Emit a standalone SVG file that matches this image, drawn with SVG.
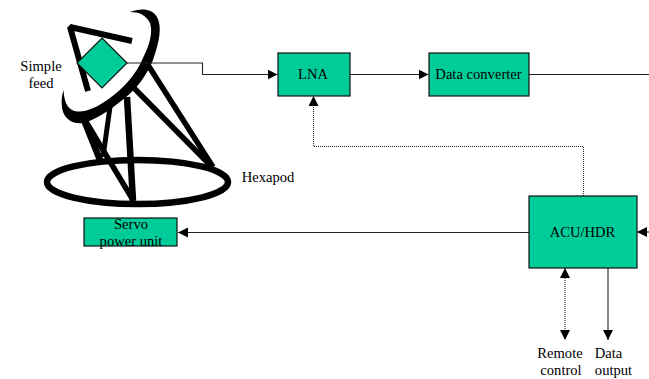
<svg xmlns="http://www.w3.org/2000/svg" width="649" height="379" viewBox="0 0 649 379">
<style>
.box{fill:#00cc99;stroke:#111;stroke-width:1.2}
text{font-family:"Liberation Serif","Times New Roman",serif;font-size:14.6px;fill:#000;text-anchor:middle}
.leg{stroke:#000;fill:none}
.c{fill:none;stroke:#222;stroke-width:1.1}
.d{stroke-dasharray:1 1}
</style>
<defs>
<marker id="a" markerUnits="userSpaceOnUse" markerWidth="11" markerHeight="11" refX="10" refY="5" orient="auto-start-reverse"><path d="M0 0L10 5L0 10Z" fill="#000"/></marker>
</defs>
<rect width="649" height="379" fill="#fff"/>
<g id="antenna">
<ellipse cx="137.500" cy="182" rx="90.500" ry="22" fill="none" stroke="#000" stroke-width="6.500"/>
<path class="leg" stroke-width="5.500" d="M148 65L213 167M133 87L210 165"/>
<path class="leg" stroke-width="6.500" d="M127 97L133 201"/>
<path class="leg" stroke-width="5" d="M110 107L103 157"/>
<path class="leg" stroke-width="5.500" d="M85 120L133 200"/>
<path class="leg" stroke-width="6.500" d="M84 120L100 160"/>
<path d="M130 12C140 8 152 8 157 17C162 26 160 40 153 60C146 77 135 90 125 98C110 110 97 119 84 123C72 125 63 118 62 107C61 101 62 95 63.500 90C64 97 65 106 72 110C82 115 98 107 110 98C125 87 137 73 143 58C150 44 153 32 150 23C146 15 139 12 130 12Z" fill="#000"/>
<path class="leg" stroke-width="6" stroke-linejoin="bevel" d="M88 91L70 27L132 41"/>
</g>
<g id="connectors">
<path class="c" marker-end="url(#a)" d="M127 63H202.500V74.500H277.500"/>
<path class="c" marker-end="url(#a)" d="M350 74.500H428.500"/>
<path class="c" d="M529 74.500H649"/>
<path class="c d" marker-end="url(#a)" d="M583.500 196V146.500H313.500V96"/>
<path class="c" marker-end="url(#a)" d="M649 232H637"/>
<path class="c" marker-end="url(#a)" d="M529 232.500H178"/>
<path class="c d" marker-start="url(#a)" marker-end="url(#a)" d="M565 268V340"/>
<path class="c" marker-end="url(#a)" d="M608 268V340"/>
</g>
<g id="feed"><path class="box" d="M102 38L127 63L102 88L77 63Z"/></g>
<g id="lna"><rect class="box" x="278" y="53" width="72" height="43"/><text x="313" y="79">LNA</text></g>
<g id="data-converter"><rect class="box" x="429" y="53" width="100" height="43"/><text x="478.500" y="79">Data converter</text></g>
<g id="acu-hdr"><rect class="box" x="529" y="196" width="108" height="72"/><text x="582.500" y="237">ACU/HDR</text></g>
<g id="servo"><rect class="box" x="84" y="218" width="93" height="28"/><text x="131" y="229">Servo</text><text x="131" y="245.500">power unit</text></g>
<g id="labels">
<text x="41" y="71">Simple</text><text x="41" y="88">feed</text>
<text x="268" y="182">Hexapod</text>
<text x="560" y="358">Remote</text><text x="561" y="375">control</text>
<text x="608.500" y="358">Data</text><text x="613.500" y="375">output</text>
</g>
</svg>
